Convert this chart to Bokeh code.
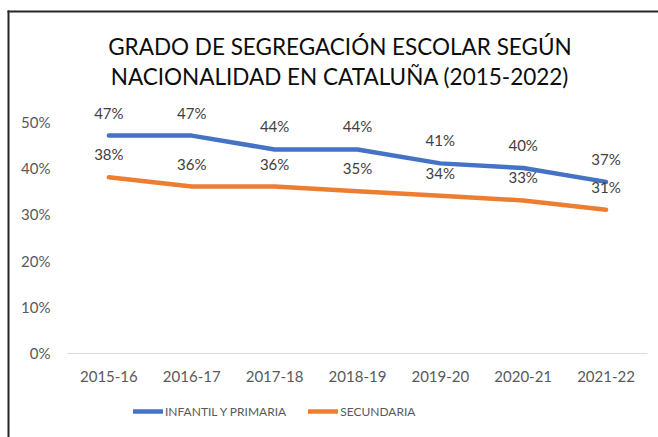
from bokeh.plotting import figure
from bokeh.models import (ColumnDataSource, FixedTicker, NumeralTickFormatter, Legend,
                          LegendItem, LabelSet, Label, Range1d, BoxAnnotation)
from bokeh.core.properties import value
from bokeh.embed import file_html
from bokeh.resources import INLINE

# ---- data ----
categories = ["2015-16", "2016-17", "2017-18", "2018-19", "2019-20", "2020-21", "2021-22"]
infantil = [0.47, 0.47, 0.44, 0.44, 0.41, 0.40, 0.37]
secundaria = [0.38, 0.36, 0.36, 0.35, 0.34, 0.33, 0.31]
series_names = ["INFANTIL Y PRIMARIA", "SECUNDARIA"]
y_ticks = [0.0, 0.1, 0.2, 0.3, 0.4, 0.5]
title_lines = ["GRADO DE SEGREGACIÓN ESCOLAR SEGÚN", "NACIONALIDAD EN CATALUÑA (2015-2022)"]

FONT = "Lato"
BLUE = "#4472C4"
ORANGE = "#ED7D31"
GREY = "#595959"

pos = list(range(len(categories)))
src = ColumnDataSource(dict(
    x=pos,
    inf=infantil,
    sec=secundaria,
    inf_lbl=[f"{round(v * 100)}%" for v in infantil],
    sec_lbl=[f"{round(v * 100)}%" for v in secundaria],
))

W, H = 658, 437
p = figure(width=W, height=H,
           x_range=Range1d(-1.308, 6.633),
           y_range=Range1d(-0.1821, 0.7618),
           output_backend="svg", toolbar_location=None,
           min_border_left=0, min_border_right=0, min_border_top=0, min_border_bottom=0)

# chart-area border (left and top edges visible)
p.add_layout(BoxAnnotation(left=7, right=9, top=10, bottom=H,
                           left_units="canvas", right_units="canvas",
                           top_units="canvas", bottom_units="canvas",
                           fill_color="#262626", fill_alpha=1, line_color=None))
p.add_layout(BoxAnnotation(left=7, right=W, top=10, bottom=12,
                           left_units="canvas", right_units="canvas",
                           top_units="canvas", bottom_units="canvas",
                           fill_color="#262626", fill_alpha=1, line_color=None))

r1 = p.line("x", "inf", source=src, line_color=BLUE, line_width=4.5,
            line_cap="round", line_join="round")
r2 = p.line("x", "sec", source=src, line_color=ORANGE, line_width=4.5,
            line_cap="round", line_join="round")

for col, lbl in (("inf", "inf_lbl"), ("sec", "sec_lbl")):
    p.add_layout(LabelSet(x="x", y=col, text=lbl, source=src, text_align="center",
                          text_baseline="middle", y_offset=23, text_font_size="15px",
                          text_color="#404040", text_font=value(FONT)))

for line, yv in zip(title_lines, (0.662, 0.5976)):
    p.add_layout(Label(x=2.788, y=yv, text=line, text_align="center",
                       text_baseline="middle", text_font_size="22.5px",
                       text_color="#0d0d0d", text_font=FONT))

p.grid.visible = False
p.outline_line_color = None
p.background_fill_color = "white"
p.border_fill_color = "white"

xa = p.xaxis[0]
xa.fixed_location = 0
xa.bounds = (-0.5, 6.5)
xa.ticker = FixedTicker(ticks=pos)
xa.major_label_overrides = {i: c for i, c in enumerate(categories)}
xa.axis_line_color = "#D9D9D9"
xa.axis_line_width = 1
xa.major_tick_line_color = None
xa.minor_tick_line_color = None
xa.major_tick_out = 0
xa.major_tick_in = 0
xa.major_label_text_font_size = "15px"
xa.major_label_text_color = GREY
xa.major_label_text_font = FONT
xa.major_label_standoff = 18

ya = p.yaxis[0]
ya.fixed_location = -0.5
ya.axis_line_color = None
ya.major_tick_line_color = None
ya.minor_tick_line_color = None
ya.major_tick_out = 0
ya.major_tick_in = 0
ya.ticker = FixedTicker(ticks=y_ticks)
ya.formatter = NumeralTickFormatter(format="0%")
ya.major_label_text_font_size = "15px"
ya.major_label_text_color = GREY
ya.major_label_text_font = FONT
ya.major_label_standoff = 17

legend = Legend(items=[LegendItem(label=series_names[0], renderers=[r1]),
                       LegendItem(label=series_names[1], renderers=[r2])],
                orientation="horizontal", location=(133, 18),
                glyph_width=30, glyph_height=16, label_standoff=2, spacing=22,
                padding=0, margin=0, border_line_color=None, background_fill_alpha=0,
                label_text_font_size="12px", label_text_color=GREY,
                label_text_font=FONT)
p.add_layout(legend)

open("out.html", "w").write(file_html(p, INLINE))
